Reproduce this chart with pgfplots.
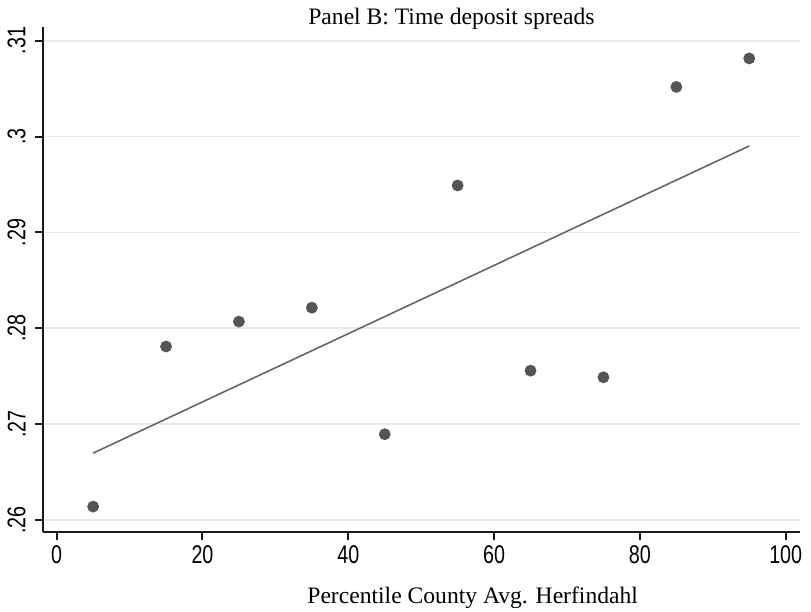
\documentclass[border=0pt]{standalone}
\usepackage{fontspec}
\setmainfont{Liberation Serif}
\newfontfamily\tickfont[FakeStretch=0.77]{Liberation Sans}
\usepackage{pgfplots}
\pgfplotsset{compat=1.18}
\definecolor{mk}{HTML}{555555}
\definecolor{fitc}{HTML}{666666}
\definecolor{gridc}{HTML}{EAEAEA}
\begin{document}
\begin{tikzpicture}
\begin{axis}[
  at={(0,0)}, anchor=south west,
  scale only axis, width=378.25pt, height=252.5pt,
  xmin=-1.81, xmax=101.96, ymin=0.25875, ymax=0.31143,
  axis x line*=bottom, axis y line*=left,
  axis line style={line width=1pt, color=black!90},
  every tick/.style={line width=1pt, color=black!90},
  tick align=outside, major tick length=4pt,
  xtick={0,20,40,60,80,100},
  xticklabels={0,20,40,60,80,100},
  ytick={0.26,0.27,0.28,0.29,0.30,0.31},
  yticklabels={.26,.27,.28,.29,.3,.31},
  ymajorgrids, major grid style={gridc, line width=0.9pt},
  ticklabel style={font=\fontsize{12.8}{14}\tickfont},
  xticklabel style={anchor=north, inner sep=0pt, yshift=-2.5pt},
  yticklabel style={xshift=-4.75pt, rotate=90, anchor=south, inner sep=0pt},
  clip=false,
]
\addplot[only marks, mark=*, mark size=2.75pt, mark options={fill=mk, draw=mk}]
coordinates {
(5,0.2614) (15,0.2781) (25,0.2807) (35,0.28215) (45,0.26895)
(55,0.2949) (65,0.27558) (75,0.27489) (85,0.30518) (95,0.30815)
};
\addplot[fitc, line width=0.8pt, no marks] coordinates {(5,0.26698) (95,0.29902)};
\node[anchor=base west, inner sep=0pt, font=\fontsize{11.8}{14}\selectfont]
  at (rel axis cs:0.3496,1) [yshift=1.5pt] {Panel B: Time deposit spreads};
\node[anchor=base west, inner sep=0pt, font=\fontsize{11.8}{14}\selectfont]
  at (rel axis cs:0.3483,0) [yshift=-35.5pt] {Percentile County Avg. Herfindahl};
\end{axis}
\pgfresetboundingbox
\path[use as bounding box] (-21.75pt,-40pt) rectangle (383.75pt,266pt);
\end{tikzpicture}
\end{document}
